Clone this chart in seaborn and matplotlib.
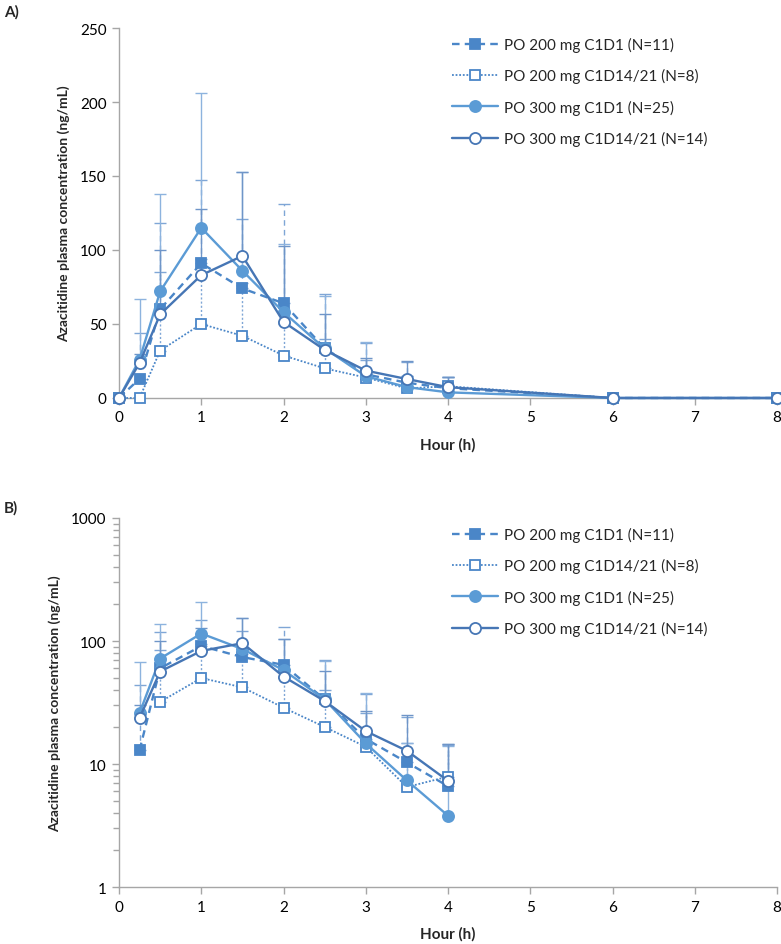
import numpy as np
import pandas as pd
import matplotlib
matplotlib.use("Agg")
import matplotlib.pyplot as plt
import seaborn as sns

# ---- data ----
hours = [0, 0.25, 0.5, 1, 1.5, 2, 2.5, 3, 3.5, 4, 6, 8]
labels = ["PO 200 mg C1D1 (N=11)", "PO 200 mg C1D14/21 (N=8)",
          "PO 300 mg C1D1 (N=25)", "PO 300 mg C1D14/21 (N=14)"]
mean_200_d1 = [0, 13.0, 60, 91, 74, 64, 33.5, 16, 10.3, 6.6, 0, 0]
mean_200_d14 = [0, 0, 32, 50, 42, 28.7, 20, 13.8, 6.5, 7.9, 0, 0]
mean_300_d1 = [0, 26, 72, 115, 86, 58, 33.5, 14.7, 7.35, 3.8, 0, 0]
mean_300_d14 = [0, 23.7, 56.5, 83, 96, 51.4, 32.5, 18.5, 12.8, 7.3, 0, 0]
sd_200_d1 = [0, 31, 58, 56, 47, 67, 36.5, 21, 13.7, 7.9, 0, 0]
sd_200_d14 = [0, 0, 53, 44, 36, 21.3, 20, 12.2, 8.4, 6.4, 0, 0]
sd_300_d1 = [0, 41, 66, 91, 67, 46, 35.5, 23.3, 7.4, 10.2, 0, 0]
sd_300_d14 = [0, 6.3, 43.5, 44.5, 57, 51.6, 24.5, 8.5, 12.2, 7.2, 0, 0]
x_ticks = [0, 1, 2, 3, 4, 5, 6, 7, 8]
yA_ticks = [0, 50, 100, 150, 200, 250]
yB_ticks = [1, 10, 100, 1000]

means = [mean_200_d1, mean_200_d14, mean_300_d1, mean_300_d14]
sds = [sd_200_d1, sd_200_d14, sd_300_d1, sd_300_d14]

sns.set_theme(style="ticks")
plt.rcParams['font.family'] = ['Lato', 'DejaVu Sans']

colors = ["#4A86C8", "#4A86C8", "#5B9BD5", "#4676B5"]
err_colors = ["#7FA6D6", "#7FA6D6", "#8DB3DE", "#6F95C8"]
styles = [(0, (3.2, 2.2)), (0, (1, 1)), "-", "-"]
err_styles = [(0, (4, 3)), (0, (1.5, 1.5)), "-", "-"]
lws = [1.7, 1.3, 1.7, 1.7]
markers = ["s", "s", "o", "o"]
filled = [True, False, True, False]

fig = plt.figure(figsize=(7.81, 9.45), dpi=100)
axA = fig.add_axes([0.1524, 0.5778, 0.8425, 0.3915])
axB = fig.add_axes([0.1524, 0.0603, 0.8425, 0.3905])

spine_col = "#A6A6A6"

for ax, logscale in [(axA, False), (axB, True)]:
    for i in range(4):
        df = pd.DataFrame({"hour": hours, "conc": means[i], "sd": sds[i]})
        if logscale:
            df = df[df["conc"] > 0]
        e = df[df["sd"] > 0]
        eb = ax.errorbar(e["hour"], e["conc"], yerr=[np.zeros(len(e)), e["sd"]],
                         fmt="none", ecolor=err_colors[i], elinewidth=1.0,
                         capsize=4, capthick=1.0, zorder=1)
        for coll in eb[2]:
            coll.set_linestyle(err_styles[i])
        sns.lineplot(data=df, x="hour", y="conc", ax=ax, color=colors[i],
                     linestyle=styles[i], linewidth=lws[i], marker=markers[i],
                     markersize=7.5 if markers[i] == "s" else 8,
                     markerfacecolor=colors[i] if filled[i] else "white",
                     markeredgecolor=colors[i], markeredgewidth=1.3,
                     label=labels[i], errorbar=None, zorder=3 + i)
    ax.set_xlim(0, 8)
    ax.set_xticks(x_ticks)
    ax.set_xticklabels([str(v) for v in x_ticks])
    if logscale:
        ax.set_yscale("log")
        ax.set_ylim(1, 1000)
        ax.set_yticks(yB_ticks)
        ax.set_yticklabels([str(v) for v in yB_ticks])
        ax.tick_params(axis="y", which="minor", length=4, width=1, color=spine_col, left=True)
    else:
        ax.set_ylim(0, 250)
        ax.set_yticks(yA_ticks)
        ax.set_yticklabels([str(v) for v in yA_ticks])
    for s in ["top", "right"]:
        ax.spines[s].set_visible(False)
    for s in ["left", "bottom"]:
        ax.spines[s].set_color(spine_col)
        ax.spines[s].set_linewidth(1.0)
    ax.tick_params(axis="both", which="major", length=5, width=1, color=spine_col,
                   labelsize=11, labelcolor="black", direction="out", pad=4)
    ax.set_xlabel("Hour (h)", fontsize=11, fontweight="bold", labelpad=9)
    ax.set_ylabel("Azacitidine plasma concentration (ng/mL)", fontsize=10,
                  fontweight="bold", labelpad=7)
    for ln in ax.lines:
        ln.set_clip_on(False)
    ax.legend(loc="upper left", bbox_to_anchor=(0.49, 1.005),
              frameon=False, fontsize=11, handlelength=3.0, handletextpad=0.4,
              labelspacing=1.07, borderaxespad=0.3)
    ax.patch.set_visible(False)

fig.text(0.005, 0.995, "A)", fontsize=11, fontweight="bold", va="top", ha="left")
fig.text(0.005, 0.470, "B)", fontsize=11, fontweight="bold", va="top", ha="left")

fig.savefig("out.png", dpi=100)
